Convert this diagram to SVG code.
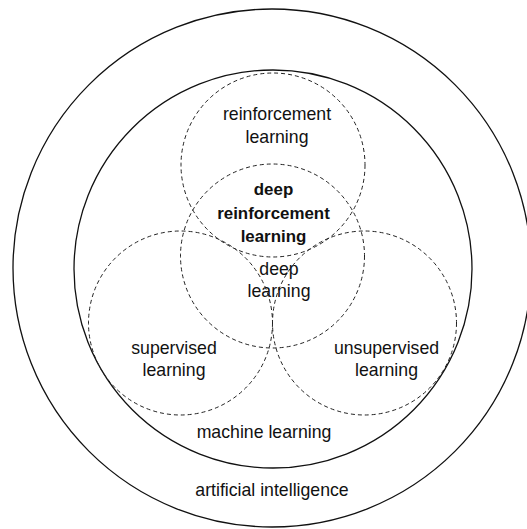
<svg xmlns="http://www.w3.org/2000/svg" width="527" height="529" viewBox="0 0 527 529">
<style>
.solid{fill:none;stroke:#111;stroke-width:1.3}
.dash{fill:none;stroke:#222;stroke-width:1;stroke-dasharray:4 3}
text{font-family:"Liberation Sans",Arial,sans-serif;font-size:17.7px;fill:#111;text-anchor:middle}
.b{font-weight:bold;font-size:16.9px}
</style>
<rect width="527" height="529" fill="#fff"/>
<g id="artificial-intelligence">
<circle class="solid" cx="272" cy="268" r="259"/>
<text x="272" y="496">artificial intelligence</text>
</g>
<g id="machine-learning">
<circle class="solid" cx="273" cy="269" r="199"/>
<text x="264" y="438">machine learning</text>
</g>
<g id="reinforcement-learning">
<circle class="dash" cx="273" cy="165" r="92"/>
<text x="277" y="119.5">reinforcement</text>
<text x="277" y="142.5">learning</text>
</g>
<g id="deep-learning">
<circle class="dash" cx="272.5" cy="256" r="92"/>
<text x="279" y="274.5">deep</text>
<text x="279" y="296.5">learning</text>
</g>
<g id="supervised-learning">
<circle class="dash" cx="180.5" cy="323" r="92"/>
<text x="174" y="353.5">supervised</text>
<text x="174" y="376">learning</text>
</g>
<g id="unsupervised-learning">
<circle class="dash" cx="364.5" cy="323" r="92"/>
<text x="386.5" y="353.5">unsupervised</text>
<text x="386.5" y="376">learning</text>
</g>
<g id="deep-reinforcement-learning">
<text class="b" x="273.5" y="195">deep</text>
<text class="b" x="273.5" y="219">reinforcement</text>
<text class="b" x="273.5" y="242">learning</text>
</g>
</svg>
